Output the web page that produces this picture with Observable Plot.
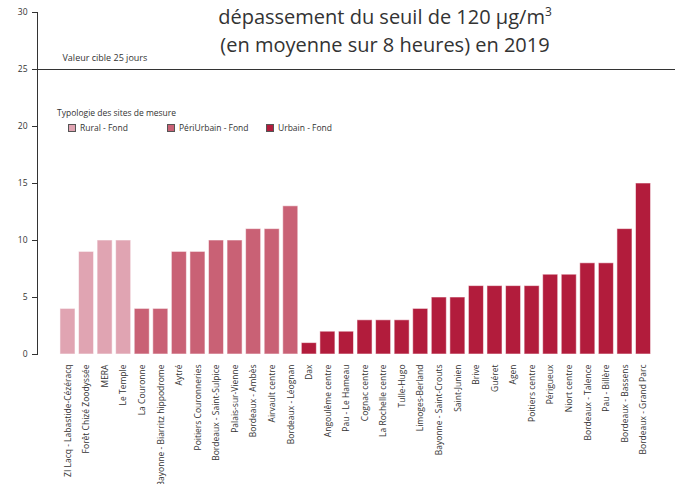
<!DOCTYPE html>
<html>
<head>
<meta charset="utf-8">
<script src="https://cdn.jsdelivr.net/npm/d3@7"></script>
<script src="https://cdn.jsdelivr.net/npm/@observablehq/plot@0.6"></script>
<style>
  html, body { margin: 0; padding: 0; background: #fff; }
  #wrap { position: relative; width: 682px; height: 484px; overflow: hidden; font-family: "Open Sans", sans-serif; color: #333; }
  #title { position: absolute; left: 185px; width: 400px; top: 3px; text-align: center; font-size: 20px; line-height: 28px; color: #333; }
  #title sup { font-size: 12px; line-height: 0; }
  #legend { position: absolute; left: 57px; top: 107px; font-size: 8.5px; color: #333; }
  #legend .ttl { margin-bottom: 4px; }
  #legend .row { display: flex; padding-left: 11px; }
  #legend .item { display: flex; align-items: center; width: 99px; }
  #legend .sw { width: 8px; height: 8px; border: 1px solid #555; margin-right: 4px; box-sizing: border-box; }
</style>
</head>
<body>
<div id="wrap">
  <div id="chart"></div>
  <div id="title">dépassement du seuil de 120 µg/m<sup>3</sup><br>(en moyenne sur 8 heures) en 2019</div>
  <div id="legend"></div>
</div>
<script>
const sites = [
  "ZI Lacq - Labastide-Cézéracq", "Forêt Chizé Zoodyssée", "MERA", "Le Temple",
  "La Couronne", "Bayonne - Biarritz hippodrome", "Aytré", "Poitiers Couronneries",
  "Bordeaux - Saint-Sulpice", "Palais-sur-Vienne", "Bordeaux - Ambès", "Airvault centre",
  "Bordeaux - Léognan",
  "Dax", "Angoulême centre", "Pau - Le Hameau", "Cognac centre", "La Rochelle centre",
  "Tulle-Hugo", "Limoges-Berland", "Bayonne - Saint-Crouts", "Saint-Junien", "Brive",
  "Guéret", "Agen", "Poitiers centre", "Périgueux", "Niort centre", "Bordeaux - Talence",
  "Pau - Billère", "Bordeaux - Bassens", "Bordeaux - Grand Parc"
];
const days = [
  4, 9, 10, 10,
  4, 4, 9, 9, 10, 10, 11, 11, 13,
  1, 2, 2, 3, 3, 3, 4, 5, 5, 6, 6, 6, 6, 7, 7, 8, 8, 11, 15
];
const siteTypes = [
  "Rural - Fond", "Rural - Fond", "Rural - Fond", "Rural - Fond",
  "PériUrbain - Fond", "PériUrbain - Fond", "PériUrbain - Fond", "PériUrbain - Fond",
  "PériUrbain - Fond", "PériUrbain - Fond", "PériUrbain - Fond", "PériUrbain - Fond",
  "PériUrbain - Fond",
  "Urbain - Fond", "Urbain - Fond", "Urbain - Fond", "Urbain - Fond", "Urbain - Fond",
  "Urbain - Fond", "Urbain - Fond", "Urbain - Fond", "Urbain - Fond", "Urbain - Fond",
  "Urbain - Fond", "Urbain - Fond", "Urbain - Fond", "Urbain - Fond", "Urbain - Fond",
  "Urbain - Fond", "Urbain - Fond", "Urbain - Fond", "Urbain - Fond"
];
const typeNames = ["Rural - Fond", "PériUrbain - Fond", "Urbain - Fond"];
const typeColors = ["#e0a4b2", "#c96175", "#b21c3c"];
const yTicks = [0, 5, 10, 15, 20, 25, 30];
const targetValue = 25;
const targetLabel = "Valeur cible 25 jours";
const legendTitle = "Typologie des sites de mesure";

const data = sites.map((s, i) => ({site: s, value: days[i], type: siteTypes[i]}));

const chart = Plot.plot({
  width: 682,
  height: 484,
  marginTop: 12,
  marginBottom: 130,
  marginLeft: 37,
  marginRight: 7,
  style: {fontFamily: "Open Sans, sans-serif", fontSize: "8.5px", color: "#333", background: "transparent"},
  x: {domain: sites, range: [58.1, 652.4], paddingInner: 0.19, paddingOuter: 0.1, round: false, label: null},
  y: {domain: [0, 30], label: null},
  color: {domain: typeNames, range: typeColors},
  marks: [
    Plot.frame({anchor: "left", stroke: "#333"}),
    Plot.axisY({ticks: yTicks, tickSize: 5, tickPadding: 5, label: null, stroke: "#333"}),
    Plot.axisX({tickRotate: -90, tickSize: 0, tickPadding: 10, label: null}),
    Plot.barY(data, {x: "site", y: "value", fill: "type", stroke: "white", strokeOpacity: 0.55, strokeWidth: 1}),
    Plot.ruleY([targetValue], {stroke: "#333", strokeWidth: 1.2}),
    Plot.text([targetLabel], {y: [targetValue], text: d => d, frameAnchor: "left", dx: 25, dy: -11, textAnchor: "start", fontSize: 9, fill: "#333"})
  ]
});
document.getElementById("chart").appendChild(chart);

const leg = document.getElementById("legend");
const t = document.createElement("div");
t.className = "ttl";
t.textContent = legendTitle;
leg.appendChild(t);
const row = document.createElement("div");
row.className = "row";
typeNames.forEach((n, i) => {
  const it = document.createElement("div");
  it.className = "item";
  const sw = document.createElement("span");
  sw.className = "sw";
  sw.style.background = typeColors[i];
  const lb = document.createElement("span");
  lb.textContent = n;
  it.appendChild(sw);
  it.appendChild(lb);
  row.appendChild(it);
});
leg.appendChild(row);
</script>
</body>
</html>
